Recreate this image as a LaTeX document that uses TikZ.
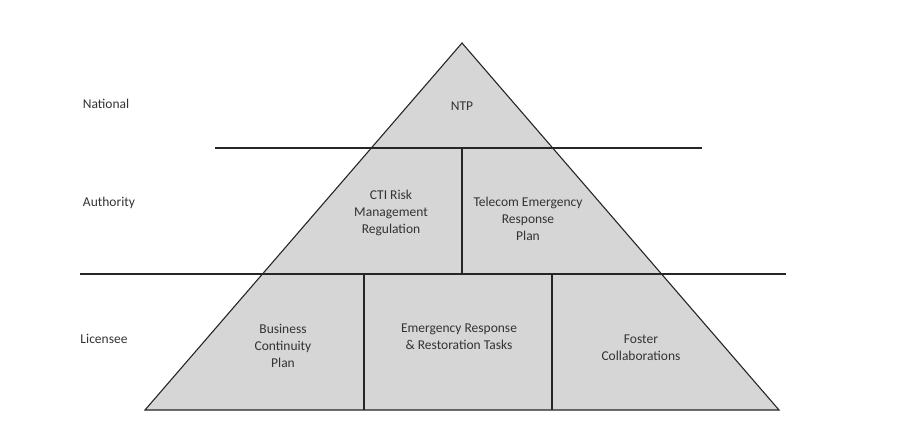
\documentclass[tikz,border=0pt]{standalone}
\usepackage{fontspec}
\setmainfont{Carlito}
\begin{document}
\begin{tikzpicture}[x=1pt,y=-1pt,
  ln/.style={line width=1.1pt,black!85},
  lbl/.style={font=\fontsize{13.5}{17}\selectfont,text=black!80,align=center,inner sep=0pt}]
\useasboundingbox (0,0) rectangle (904,430);
\coordinate (A) at (462,43);
\coordinate (L) at (145,410);
\coordinate (R) at (779,410);
\draw[ln,fill=black!16] (A) -- (L) -- (R) -- cycle;
\coordinate (h1a) at (215,148); \coordinate (h1b) at (702,148);
\coordinate (h2a) at (80,274); \coordinate (h2b) at (786,274);
\draw[ln] (h1a) -- (h1b);
\draw[ln] (h2a) -- (h2b);
\coordinate (v1a) at (462,148); \coordinate (v1b) at (462,274);
\coordinate (v2a) at (364,274); \coordinate (v2b) at (364,410);
\coordinate (v3a) at (552,274); \coordinate (v3b) at (552,410);
\draw[ln] (v1a) -- (v1b);
\draw[ln] (v2a) -- (v2b);
\draw[ln] (v3a) -- (v3b);
\node[lbl] (nat) at (106,104) {National};
\node[lbl] (aut) at (109,203) {Authority};
\node[lbl] (lic) at (104,339) {Licensee};
\node[lbl] (ntp) at (462,106) {NTP};
\node[lbl] (cti) at (391,213) {CTI Risk\\Management\\Regulation};
\node[lbl] (ter) at (528,219) {Telecom Emergency\\Response\\Plan};
\node[lbl] (bcp) at (283,346) {Business\\Continuity\\Plan};
\node[lbl] (err) at (459,337) {Emergency Response\\\& Restoration Tasks};
\node[lbl] (fc) at (641,348) {Foster\\Collaborations};
\end{tikzpicture}
\end{document}
